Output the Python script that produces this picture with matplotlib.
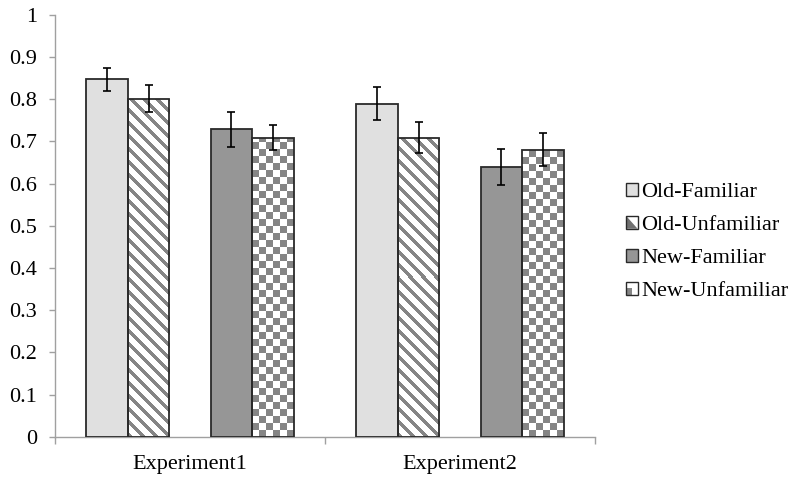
import numpy as np
import matplotlib
matplotlib.use("Agg")
import matplotlib.pyplot as plt
from matplotlib.patches import Rectangle, Patch, Polygon
from matplotlib.colors import ListedColormap
from matplotlib.legend_handler import HandlerBase

plt.rcParams['font.family'] = ['Liberation Serif', 'DejaVu Serif']

categories = ["Experiment1", "Experiment2"]
series = ["Old-Familiar", "Old-Unfamiliar", "New-Familiar", "New-Unfamiliar"]
old_familiar = [0.847, 0.789]
old_unfamiliar = [0.801, 0.709]
new_familiar = [0.729, 0.639]
new_unfamiliar = [0.709, 0.680]
err_old_familiar = [0.027, 0.039]
err_old_unfamiliar = [0.032, 0.037]
err_new_familiar = [0.042, 0.042]
err_new_unfamiliar = [0.029, 0.039]
yticks = [0, 0.1, 0.2, 0.3, 0.4, 0.5, 0.6, 0.7, 0.8, 0.9, 1]

values = [old_familiar, old_unfamiliar, new_familiar, new_unfamiliar]
errors = [err_old_familiar, err_old_unfamiliar, err_new_familiar, err_new_unfamiliar]

fig = plt.figure(figsize=(8, 4.84), dpi=100)
ax = fig.add_axes([0.06875, 0.0977, 0.675, 0.8715])

x = np.arange(len(categories))
w = 0.1537
offsets = [-2 * w, -w, w, 2 * w]
edge = '#2a2a2a'
gray_pat = '#858585'
pat_cmap = ListedColormap(['white', gray_pat])

ax.set_xlim(-0.5, 1.5)
ax.set_ylim(0, 1)

# pixel sizes in data units
px_x = 1.0 / 270.0
px_y = 1.0 / 421.8


def fill_pattern(rect, kind):
    x0 = rect.get_x()
    nx = int(np.ceil(rect.get_width() / px_x)) + 2
    ny = int(np.ceil(rect.get_height() / px_y)) + 2
    ii, jj = np.meshgrid(np.arange(nx), np.arange(ny))
    if kind == 'stripes':
        board = (((ii + jj) % 13) < 5).astype(float)
    else:
        board = (((ii // 7) + (jj // 7)) % 2).astype(float)
    im = ax.imshow(board, extent=[x0, x0 + nx * px_x, 0, ny * px_y], origin='lower',
                   cmap=pat_cmap, vmin=0, vmax=1, interpolation='nearest',
                   aspect='auto', zorder=2.1)
    im.set_clip_path(rect)


# Old-Familiar
ax.bar(x + offsets[0], values[0], w, color='#e0e0e0', linewidth=0, zorder=2)
# Old-Unfamiliar (diagonal stripes)
b1 = ax.bar(x + offsets[1], values[1], w, color='white', linewidth=0, zorder=2)
for r in b1.patches:
    fill_pattern(r, 'stripes')
# New-Familiar
ax.bar(x + offsets[2], values[2], w, color='#969696', linewidth=0, zorder=2)
# New-Unfamiliar (checker)
b3 = ax.bar(x + offsets[3], values[3], w, color='white', linewidth=0, zorder=2)
for r in b3.patches:
    fill_pattern(r, 'checker')

ax.set_xlim(-0.5, 1.5)
ax.set_ylim(0, 1)

# outlines and error bars
for i in range(4):
    ax.bar(x + offsets[i], values[i], w, fill=False, edgecolor=edge, linewidth=1.3, zorder=3)
    ax.errorbar(x + offsets[i], values[i], yerr=errors[i], fmt='none', ecolor='black',
                elinewidth=1.2, capsize=3.2, capthick=1.2, zorder=4)

for s in ['top', 'right']:
    ax.spines[s].set_visible(False)
for s in ['left', 'bottom']:
    ax.spines[s].set_color('#a0a0a0')
    ax.spines[s].set_linewidth(1.0)

ax.set_yticks(yticks)
ax.set_yticklabels([f"{t:g}" for t in yticks], fontsize=16)
ax.tick_params(axis='y', length=4, width=1, color='#a0a0a0', pad=9)
ax.set_xticks(x)
ax.set_xticklabels(categories, fontsize=16)
ax.tick_params(axis='x', which='major', length=0, pad=13.5)
ax.set_xticks([-0.5, 0.5, 1.5], minor=True)
ax.tick_params(axis='x', which='minor', length=5, width=1, color='#a0a0a0')


class HandlerChecker(HandlerBase):
    def create_artists(self, legend, orig_handle, xdescent, ydescent, width, height, fontsize, trans):
        x0, y0 = -xdescent, -ydescent
        return [
            Rectangle((x0, y0), width, height, facecolor='white', edgecolor='none', transform=trans),
            Rectangle((x0, y0), width * 0.55, height * 0.55, facecolor=gray_pat, edgecolor='none', transform=trans),
            Rectangle((x0, y0), width, height, fill=False, edgecolor=edge, linewidth=1.0, transform=trans),
        ]


class HandlerTriangle(HandlerBase):
    def create_artists(self, legend, orig_handle, xdescent, ydescent, width, height, fontsize, trans):
        x0, y0 = -xdescent, -ydescent
        return [
            Rectangle((x0, y0), width, height, facecolor='white', edgecolor='none', transform=trans),
            Polygon([(x0, y0), (x0 + width, y0), (x0, y0 + height)], closed=True,
                    facecolor='#707070', edgecolor='none', transform=trans),
            Rectangle((x0, y0), width, height, fill=False, edgecolor=edge, linewidth=1.0, transform=trans),
        ]


class CheckerProxy:
    pass


class StripeProxy:
    pass


handles = [
    Patch(facecolor='#e0e0e0', edgecolor=edge, linewidth=1.0),
    StripeProxy(),
    Patch(facecolor='#969696', edgecolor=edge, linewidth=1.0),
    CheckerProxy(),
]
fig.legend(handles, series, loc='center left', bbox_to_anchor=(0.7825, 0.5),
           frameon=False, fontsize=16, handlelength=0.52, handleheight=0.52,
           handletextpad=0.15, labelspacing=0.62, borderpad=0, borderaxespad=0,
           handler_map={CheckerProxy: HandlerChecker(), StripeProxy: HandlerTriangle()})

fig.savefig("out.png", dpi=100)
